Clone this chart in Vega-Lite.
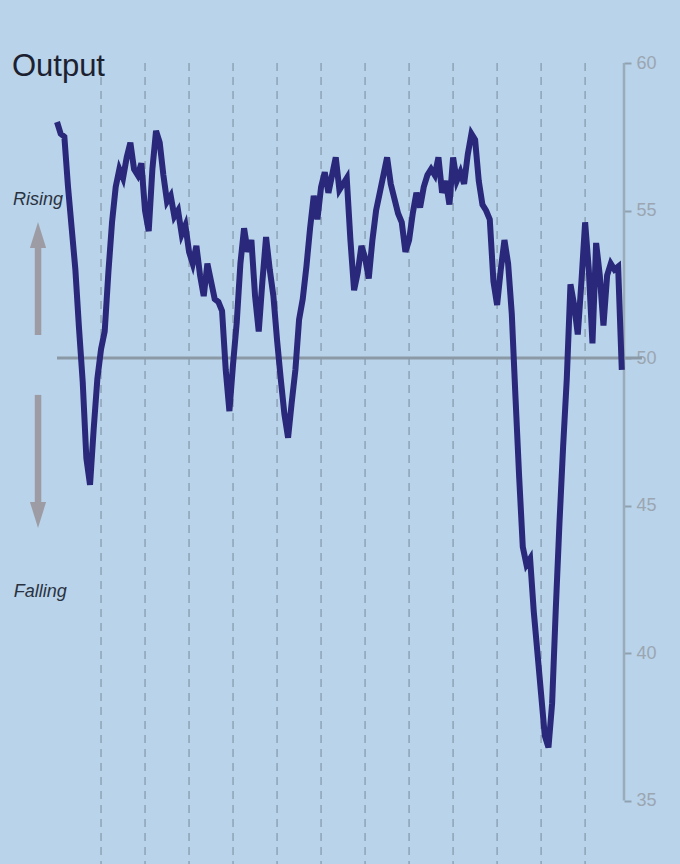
{
  "$schema": "https://vega.github.io/schema/vega-lite/v6.json",
  "width": 624,
  "height": 801,
  "autosize": {"type": "none"},
  "padding": {"left": 0, "top": 63, "right": 56, "bottom": 0},
  "background": "#b9d3ea",
  "config": {
    "view": {"stroke": null},
    "axis": {
      "domain": false, "grid": false,
      "tickSize": 7, "tickColor": "#8fa0b0", "tickWidth": 2,
      "labelColor": "#9ba6b1", "labelFontSize": 18, "labelFont": "Liberation Sans, Arial, sans-serif",
      "labelPadding": 5
    }
  },
  "datasets": {
    "output": [
      {"m":0,"v":58.0},{"m":1,"v":57.6},{"m":2,"v":57.5},{"m":3,"v":55.8},{"m":4,"v":54.4},{"m":5,"v":53.0},{"m":6,"v":51.0},{"m":7,"v":49.2},{"m":8,"v":46.6},{"m":9,"v":45.7},
      {"m":10,"v":47.6},{"m":11,"v":49.3},{"m":12,"v":50.3},{"m":13,"v":50.9},{"m":14,"v":52.9},{"m":15,"v":54.6},{"m":16,"v":55.8},{"m":17,"v":56.4},{"m":18,"v":56.1},{"m":19,"v":56.8},
      {"m":20,"v":57.3},{"m":21,"v":56.4},{"m":22,"v":56.2},{"m":23,"v":56.6},{"m":24,"v":55.0},{"m":25,"v":54.3},{"m":26,"v":56.4},{"m":27,"v":57.7},{"m":28,"v":57.3},{"m":29,"v":56.2},
      {"m":30,"v":55.3},{"m":31,"v":55.5},{"m":32,"v":54.8},{"m":33,"v":55.0},{"m":34,"v":54.2},{"m":35,"v":54.5},{"m":36,"v":53.6},{"m":37,"v":53.2},{"m":38,"v":53.8},{"m":39,"v":52.8},
      {"m":40,"v":52.1},{"m":41,"v":53.2},{"m":42,"v":52.6},{"m":43,"v":52.0},{"m":44,"v":51.9},{"m":45,"v":51.6},{"m":46,"v":49.6},{"m":47,"v":48.2},{"m":48,"v":49.8},{"m":49,"v":51.2},
      {"m":50,"v":53.2},{"m":51,"v":54.4},{"m":52,"v":53.6},{"m":53,"v":54.0},{"m":54,"v":52.1},{"m":55,"v":50.9},{"m":56,"v":52.6},{"m":57,"v":54.1},{"m":58,"v":53.0},{"m":59,"v":52.1},
      {"m":60,"v":50.6},{"m":61,"v":49.3},{"m":62,"v":48.1},{"m":63,"v":47.3},{"m":64,"v":48.5},{"m":65,"v":49.6},{"m":66,"v":51.3},{"m":67,"v":52.0},{"m":68,"v":53.1},{"m":69,"v":54.4},
      {"m":70,"v":55.5},{"m":71,"v":54.7},{"m":72,"v":55.8},{"m":73,"v":56.3},{"m":74,"v":55.6},{"m":75,"v":56.2},{"m":76,"v":56.8},{"m":77,"v":55.7},{"m":78,"v":55.9},{"m":79,"v":56.1},
      {"m":80,"v":54.0},{"m":81,"v":52.3},{"m":82,"v":52.9},{"m":83,"v":53.8},{"m":84,"v":53.4},{"m":85,"v":52.7},{"m":86,"v":54.0},{"m":87,"v":55.0},{"m":88,"v":55.6},{"m":89,"v":56.2},
      {"m":90,"v":56.8},{"m":91,"v":55.9},{"m":92,"v":55.4},{"m":93,"v":54.9},{"m":94,"v":54.6},{"m":95,"v":53.6},{"m":96,"v":54.0},{"m":97,"v":54.9},{"m":98,"v":55.6},{"m":99,"v":55.1},
      {"m":100,"v":55.8},{"m":101,"v":56.2},{"m":102,"v":56.4},{"m":103,"v":56.2},{"m":104,"v":56.8},{"m":105,"v":55.6},{"m":106,"v":56.0},{"m":107,"v":55.2},{"m":108,"v":56.8},{"m":109,"v":56.0},
      {"m":110,"v":56.3},{"m":111,"v":55.9},{"m":112,"v":56.9},{"m":113,"v":57.6},{"m":114,"v":57.4},{"m":115,"v":56.0},{"m":116,"v":55.2},{"m":117,"v":55.0},{"m":118,"v":54.7},{"m":119,"v":52.6},
      {"m":120,"v":51.8},{"m":121,"v":53.0},{"m":122,"v":54.0},{"m":123,"v":53.2},{"m":124,"v":51.5},{"m":125,"v":48.7},{"m":126,"v":46.0},{"m":127,"v":43.6},{"m":128,"v":43.0},{"m":129,"v":43.2},
      {"m":130,"v":41.4},{"m":131,"v":40.0},{"m":132,"v":38.6},{"m":133,"v":37.2},{"m":134,"v":36.8},{"m":135,"v":38.3},{"m":136,"v":41.5},{"m":137,"v":44.4},{"m":138,"v":47.0},{"m":139,"v":49.3},
      {"m":140,"v":52.5},{"m":141,"v":51.8},{"m":142,"v":50.8},{"m":143,"v":52.6},{"m":144,"v":54.6},{"m":145,"v":53.0},{"m":146,"v":50.5},{"m":147,"v":53.9},{"m":148,"v":52.8},{"m":149,"v":51.1},
      {"m":150,"v":52.8},{"m":151,"v":53.2},{"m":152,"v":53.0},{"m":153,"v":53.1},{"m":154,"v":49.6}
    ],
    "years": [{"m":12},{"m":24},{"m":36},{"m":48},{"m":60},{"m":72},{"m":84},{"m":96},{"m":108},{"m":120},{"m":132},{"m":144}],
    "one": [{}]
  },
  "layer": [
    {
      "data": {"name": "years"},
      "mark": {"type": "rule", "color": "#8ea3b6", "strokeWidth": 1.5, "strokeDash": [8, 6]},
      "encoding": {
        "x": {"field": "m", "type": "quantitative", "scale": {"domain": [-15.55, 154.6], "nice": false, "zero": false}, "axis": null}
      }
    },
    {
      "data": {"name": "one"},
      "mark": {"type": "rule", "color": "#8b99a6", "strokeWidth": 3},
      "encoding": {
        "x": {"datum": 0, "type": "quantitative", "scale": {"domain": [-15.55, 154.6], "nice": false, "zero": false}, "axis": null},
        "x2": {"datum": 159.5},
        "y": {"datum": 50, "type": "quantitative", "scale": {"domain": [32.85, 60], "nice": false, "zero": false}, "axis": {"orient": "right", "values": [35, 40, 45, 50, 55, 60], "title": null}}
      }
    },
    {
      "data": {"name": "one"},
      "mark": {"type": "rule", "color": "#9aabba", "strokeWidth": 2.5},
      "encoding": {
        "x": {"datum": 154.6, "type": "quantitative", "scale": {"domain": [-15.55, 154.6], "nice": false, "zero": false}, "axis": null},
        "y": {"datum": 35, "type": "quantitative", "scale": {"domain": [32.85, 60], "nice": false, "zero": false}, "axis": {"orient": "right", "values": [35, 40, 45, 50, 55, 60], "title": null}},
        "y2": {"datum": 60}
      }
    },
    {
      "data": {"name": "one"},
      "mark": {"type": "rule", "color": "#9d9ba3", "strokeWidth": 6.5},
      "encoding": {
        "x": {"datum": -5.18, "type": "quantitative", "scale": {"domain": [-15.55, 154.6], "nice": false, "zero": false}, "axis": null},
        "y": {"datum": 50.78, "type": "quantitative", "scale": {"domain": [32.85, 60], "nice": false, "zero": false}, "axis": {"orient": "right", "values": [35, 40, 45, 50, 55, 60], "title": null}},
        "y2": {"datum": 53.9}
      }
    },
    {
      "data": {"name": "one"},
      "mark": {"type": "rule", "color": "#9d9ba3", "strokeWidth": 6.5},
      "encoding": {
        "x": {"datum": -5.18, "type": "quantitative", "scale": {"domain": [-15.55, 154.6], "nice": false, "zero": false}, "axis": null},
        "y": {"datum": 48.75, "type": "quantitative", "scale": {"domain": [32.85, 60], "nice": false, "zero": false}, "axis": {"orient": "right", "values": [35, 40, 45, 50, 55, 60], "title": null}},
        "y2": {"datum": 45.0}
      }
    },
    {
      "data": {"name": "one"},
      "mark": {"type": "point", "shape": "M0,-1L0.62,1L-0.62,1Z", "filled": true, "color": "#9d9ba3", "opacity": 1, "size": 676},
      "encoding": {
        "x": {"datum": -5.18, "type": "quantitative", "scale": {"domain": [-15.55, 154.6], "nice": false, "zero": false}, "axis": null},
        "y": {"datum": 54.17, "type": "quantitative", "scale": {"domain": [32.85, 60], "nice": false, "zero": false}, "axis": {"orient": "right", "values": [35, 40, 45, 50, 55, 60], "title": null}}
      }
    },
    {
      "data": {"name": "one"},
      "mark": {"type": "point", "shape": "M0,1L0.62,-1L-0.62,-1Z", "filled": true, "color": "#9d9ba3", "opacity": 1, "size": 676},
      "encoding": {
        "x": {"datum": -5.18, "type": "quantitative", "scale": {"domain": [-15.55, 154.6], "nice": false, "zero": false}, "axis": null},
        "y": {"datum": 44.68, "type": "quantitative", "scale": {"domain": [32.85, 60], "nice": false, "zero": false}, "axis": {"orient": "right", "values": [35, 40, 45, 50, 55, 60], "title": null}}
      }
    },
    {
      "data": {"name": "one"},
      "mark": {"type": "text", "text": "Output", "align": "left", "baseline": "alphabetic", "font": "Liberation Sans, Arial, sans-serif", "fontSize": 31, "color": "#1b2130"},
      "encoding": {
        "x": {"datum": -12.3, "type": "quantitative", "scale": {"domain": [-15.55, 154.6], "nice": false, "zero": false}, "axis": null},
        "y": {"datum": 59.55, "type": "quantitative", "scale": {"domain": [32.85, 60], "nice": false, "zero": false}, "axis": {"orient": "right", "values": [35, 40, 45, 50, 55, 60], "title": null}}
      }
    },
    {
      "data": {"name": "one"},
      "mark": {"type": "text", "text": "Rising", "align": "left", "baseline": "alphabetic", "font": "Liberation Sans, Arial, sans-serif", "fontSize": 18, "fontStyle": "italic", "color": "#2a3240"},
      "encoding": {
        "x": {"datum": -12.0, "type": "quantitative", "scale": {"domain": [-15.55, 154.6], "nice": false, "zero": false}, "axis": null},
        "y": {"datum": 55.19, "type": "quantitative", "scale": {"domain": [32.85, 60], "nice": false, "zero": false}, "axis": {"orient": "right", "values": [35, 40, 45, 50, 55, 60], "title": null}}
      }
    },
    {
      "data": {"name": "one"},
      "mark": {"type": "text", "text": "Falling", "align": "left", "baseline": "alphabetic", "font": "Liberation Sans, Arial, sans-serif", "fontSize": 18, "fontStyle": "italic", "color": "#2a3240"},
      "encoding": {
        "x": {"datum": -11.8, "type": "quantitative", "scale": {"domain": [-15.55, 154.6], "nice": false, "zero": false}, "axis": null},
        "y": {"datum": 41.9, "type": "quantitative", "scale": {"domain": [32.85, 60], "nice": false, "zero": false}, "axis": {"orient": "right", "values": [35, 40, 45, 50, 55, 60], "title": null}}
      }
    },
    {
      "data": {"name": "output"},
      "mark": {"type": "line", "color": "#29287a", "strokeWidth": 6, "strokeJoin": "miter", "strokeMiterLimit": 4},
      "encoding": {
        "x": {"field": "m", "type": "quantitative", "scale": {"domain": [-15.55, 154.6], "nice": false, "zero": false}, "axis": null},
        "y": {"field": "v", "type": "quantitative", "scale": {"domain": [32.85, 60], "nice": false, "zero": false}, "axis": {"orient": "right", "values": [35, 40, 45, 50, 55, 60], "title": null}}
      }
    }
  ]
}
